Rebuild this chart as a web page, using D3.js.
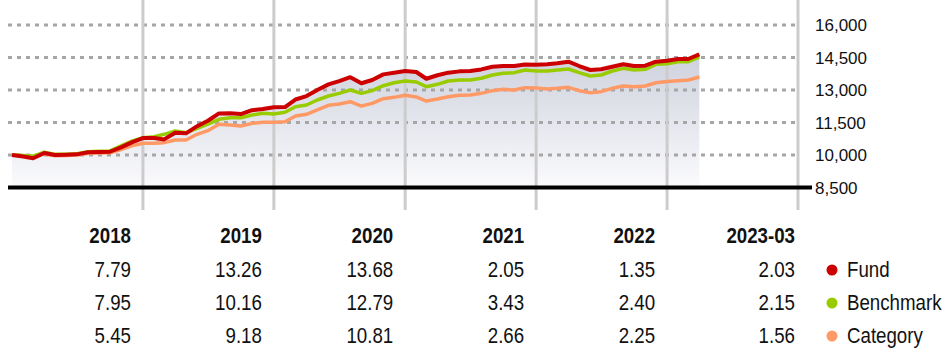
<!DOCTYPE html>
<html>
<head>
<meta charset="utf-8">
<script src="https://cdn.jsdelivr.net/npm/d3@7"></script>
<style>
  body { margin: 0; background: #fff; }
  .tbl { font-family: "Liberation Sans", Arial, sans-serif; font-size: 22px; fill: #111; }
  .axis { font-family: "Liberation Sans", Arial, sans-serif; font-size: 17px; fill: #111; }
</style>
</head>
<body>
<div id="container"></div>
<script>
/* CONSTANTS AND GLOBALS */
const width = 950,
  height = 362,
  narrow = 0.85; // squeeze text to look like a condensed face

// growth of 10,000, month-end values from 2017-12 to 2023-03
const fund = [10000, 9930, 9850, 10090, 10000, 10010, 10030, 10130, 10140, 10150, 10350, 10580,
  10779, 10780, 10720, 11030, 11000, 11330, 11580, 11920, 11930, 11890, 12070, 12120,
  12208, 12210, 12560, 12720, 13000, 13260, 13410, 13590, 13310, 13460, 13720, 13800,
  13878, 13830, 13520, 13680, 13800, 13860, 13877, 13950, 14075, 14107, 14107, 14180,
  14163, 14186, 14230, 14307, 14107, 13923, 13955, 14075, 14186, 14107, 14123, 14307,
  14354, 14430, 14430, 14645];
const benchmark = [10000, 9980, 9950, 10130, 10030, 10030, 10060, 10150, 10170, 10190, 10420, 10640,
  10795, 10845, 10955, 11108, 11030, 11231, 11430, 11647, 11722, 11722, 11846, 11924,
  11892, 11970, 12230, 12308, 12538, 12723, 12846, 13000, 12846, 12969, 13198, 13336,
  13413, 13369, 13152, 13263, 13415, 13461, 13461, 13540, 13692, 13770, 13800, 13923,
  13873, 13877, 13923, 13969, 13800, 13646, 13692, 13877, 14000, 13923, 13955, 14186,
  14206, 14307, 14307, 14512];
const category = [10000, 9960, 9900, 10050, 9960, 9980, 10000, 10080, 10090, 10100, 10250, 10420,
  10545, 10538, 10570, 10692, 10692, 10955, 11122, 11416, 11384, 11338, 11461, 11507,
  11513, 11538, 11800, 11878, 12077, 12292, 12354, 12461, 12261, 12384, 12600, 12661,
  12758, 12677, 12492, 12584, 12692, 12754, 12769, 12846, 12969, 13030, 13000, 13108,
  13098, 13046, 13077, 13123, 12969, 12877, 12923, 13077, 13184, 13152, 13184, 13336,
  13393, 13430, 13461, 13602];

const yTicks = [8500, 10000, 11500, 13000, 14500, 16000];

// annual returns table
const periods = ["2018", "2019", "2020", "2021", "2022", "2023-03"];
const fundReturns = ["7.79", "13.26", "13.68", "2.05", "1.35", "2.03"];
const benchReturns = ["7.95", "10.16", "12.79", "3.43", "2.40", "2.15"];
const catReturns = ["5.45", "9.18", "10.81", "2.66", "2.25", "1.56"];
const seriesNames = ["Fund", "Benchmark", "Category"];
const seriesColors = ["#cc0000", "#99cc00", "#ff9966"];

const dates = fund.map((d, i) => new Date(2018, i, 0)); // month ends

/* SCALES */
const xScale = d3.scaleTime()
  .domain([new Date(2017, 11, 31), new Date(2023, 11, 31)])
  .range([12, 798]);

const yScale = d3.scaleLinear()
  .domain([8500, 16000])
  .range([187.5, 25]);

const svg = d3.select("#container")
  .append("svg")
  .attr("width", width)
  .attr("height", height);

// area gradient
const grad = svg.append("defs").append("linearGradient")
  .attr("id", "areaGrad")
  .attr("gradientUnits", "userSpaceOnUse")
  .attr("x1", 0).attr("x2", 0)
  .attr("y1", yScale(14500)).attr("y2", yScale(8500));
grad.append("stop").attr("offset", 0).attr("stop-color", "#cfd2de");
grad.append("stop").attr("offset", 1).attr("stop-color", "#fbfbfd");

const area = d3.area()
  .x((d, i) => xScale(dates[i]))
  .y0(yScale(8500))
  .y1(d => yScale(d));

svg.append("path")
  .datum(fund)
  .attr("d", area)
  .attr("fill", "url(#areaGrad)");

// dotted horizontal gridlines
svg.append("g")
  .selectAll("line")
  .data(yTicks.slice(1))
  .join("line")
  .attr("x1", 8)
  .attr("x2", 795)
  .attr("y1", d => yScale(d))
  .attr("y2", d => yScale(d))
  .attr("stroke", "#a6a6a6")
  .attr("stroke-width", 3)
  .attr("stroke-dasharray", "4,5");

// year separators
const yearLines = d3.range(2018, 2024).map(y => new Date(y, 11, 31));
svg.append("g")
  .selectAll("line")
  .data(yearLines)
  .join("line")
  .attr("x1", d => xScale(d))
  .attr("x2", d => xScale(d))
  .attr("y1", 0)
  .attr("y2", 210)
  .attr("stroke", "#cccccc")
  .attr("stroke-width", 3);

// baseline
svg.append("line")
  .attr("x1", 8)
  .attr("x2", 812)
  .attr("y1", yScale(8500))
  .attr("y2", yScale(8500))
  .attr("stroke", "#000")
  .attr("stroke-width", 4);

// y labels on the right
svg.append("g")
  .selectAll("text")
  .data(yTicks)
  .join("text")
  .attr("class", "axis")
  .attr("x", 815)
  .attr("y", d => yScale(d))
  .attr("dy", "0.36em")
  .text(d => d3.format(",")(d));

// lines
const line = d3.line()
  .x((d, i) => xScale(dates[i]))
  .y(d => yScale(d));

[category, benchmark, fund].forEach((s, k) => {
  svg.append("path")
    .datum(s)
    .attr("d", line)
    .attr("fill", "none")
    .attr("stroke", seriesColors[2 - k])
    .attr("stroke-width", k === 2 ? 4 : 3.5)
    .attr("stroke-linejoin", "round");
});

/* TABLE */
const colX = i => i < periods.length - 1
  ? xScale(new Date(2018 + i, 11, 31)) - 12
  : xScale.range()[1] - 3;

const rowY = [243, 277, 310, 343];

svg.append("g")
  .selectAll("text")
  .data(periods)
  .join("text")
  .attr("class", "tbl")
  .attr("transform", (d, i) => `translate(${colX(i)},${rowY[0]}) scale(${narrow},1)`)
  .attr("text-anchor", "end")
  .attr("font-weight", "bold")
  .text(d => d);

[fundReturns, benchReturns, catReturns].forEach((row, r) => {
  svg.append("g")
    .selectAll("text")
    .data(row)
    .join("text")
    .attr("class", "tbl")
    .attr("transform", (d, i) => `translate(${colX(i)},${rowY[r + 1]}) scale(${narrow},1)`)
    .attr("text-anchor", "end")
    .text(d => d);
});

// legend
const legend = svg.append("g")
  .selectAll("g")
  .data(seriesNames)
  .join("g");

legend.append("circle")
  .attr("cx", 832)
  .attr("cy", (d, i) => rowY[i + 1] - 7)
  .attr("r", 5.5)
  .attr("fill", (d, i) => seriesColors[i]);

legend.append("text")
  .attr("class", "tbl")
  .attr("transform", (d, i) => `translate(847,${rowY[i + 1]}) scale(${narrow},1)`)
  .text(d => d);
</script>
</body>
</html>
